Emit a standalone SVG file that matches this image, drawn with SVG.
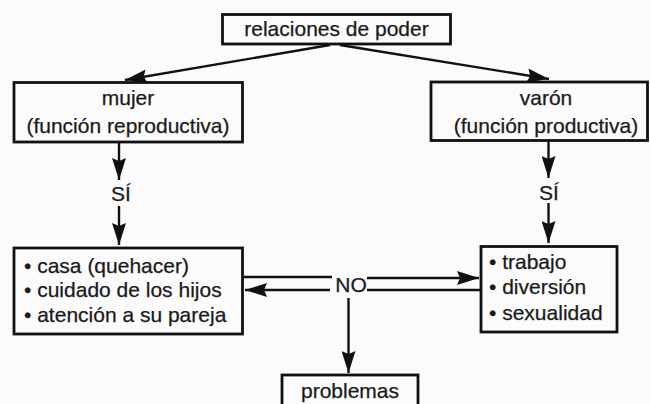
<svg xmlns="http://www.w3.org/2000/svg" width="650" height="404" viewBox="0 0 650 404">
  <style>
    .box { fill: none; stroke: #111; stroke-width: 2.8; }
    .t { font-family: "Liberation Sans", Arial, Helvetica, sans-serif; font-size: 21px; fill: #1a1a1a; stroke: #1a1a1a; stroke-width: 0.25; }
    .c { text-anchor: middle; }
    .ln { stroke: #111; stroke-width: 2.4; fill: none; }
  </style>
  <defs>
    <marker id="ah" markerUnits="userSpaceOnUse" viewBox="0 0 22 14" markerWidth="22" markerHeight="14" refX="22" refY="7" orient="auto">
      <path d="M0,0 L22,7 L0,14 L3,7 z" fill="#111"/>
    </marker>
  </defs>
  <rect x="0" y="0" width="650" height="404" fill="#fbfbfb"/>

  <g id="connectors">
    <line class="ln" x1="330" y1="45" x2="125" y2="80" marker-end="url(#ah)"/>
    <line class="ln" x1="340" y1="45" x2="549" y2="79" marker-end="url(#ah)"/>
    <line class="ln" x1="119" y1="142" x2="119" y2="180" marker-end="url(#ah)"/>
    <text class="t c" x="121" y="201">SÍ</text>
    <line class="ln" x1="119" y1="206" x2="119" y2="245" marker-end="url(#ah)"/>
    <line class="ln" x1="548.5" y1="141" x2="548.5" y2="178" marker-end="url(#ah)"/>
    <text class="t c" x="549" y="200">SÍ</text>
    <line class="ln" x1="548.5" y1="203" x2="548.5" y2="243" marker-end="url(#ah)"/>
    <line class="ln" x1="242" y1="277" x2="332" y2="277"/>
    <line class="ln" x1="367" y1="278" x2="479" y2="278" marker-end="url(#ah)"/>
    <line class="ln" x1="481" y1="290" x2="367" y2="290"/>
    <line class="ln" x1="330" y1="290" x2="245" y2="290" marker-end="url(#ah)"/>
    <text class="t c" x="351" y="292">NO</text>
    <line class="ln" x1="348.5" y1="298" x2="348.5" y2="373" marker-end="url(#ah)"/>
  </g>

  <g id="relaciones">
    <rect class="box" x="222.5" y="14.5" width="228" height="29.5"/>
    <text class="t c" x="336.5" y="36">relaciones de poder</text>
  </g>
  <g id="mujer">
    <rect class="box" x="14" y="82.5" width="228.5" height="59.5"/>
    <text class="t c" x="128" y="105">mujer</text>
    <text class="t c" x="128" y="133">(función reproductiva)</text>
  </g>
  <g id="varon">
    <rect class="box" x="431" y="82" width="216.5" height="58.5"/>
    <text class="t c" x="546" y="105">varón</text>
    <text class="t c" x="546" y="133">(función productiva)</text>
  </g>
  <g id="tareas-mujer">
    <rect class="box" x="14" y="248" width="228.5" height="86"/>
    <text class="t" x="24" y="273">• casa (quehacer)</text>
    <text class="t" x="24" y="297">• cuidado de los hijos</text>
    <text class="t" x="24" y="321.5">• atención a su pareja</text>
  </g>
  <g id="tareas-varon">
    <rect class="box" x="481" y="246.5" width="136" height="85.5"/>
    <text class="t" x="489" y="268.5">• trabajo</text>
    <text class="t" x="489" y="294">• diversión</text>
    <text class="t" x="489" y="320">• sexualidad</text>
  </g>
  <g id="problemas">
    <rect class="box" x="282" y="375" width="136" height="40"/>
    <text class="t c" x="350" y="398">problemas</text>
  </g>
</svg>
